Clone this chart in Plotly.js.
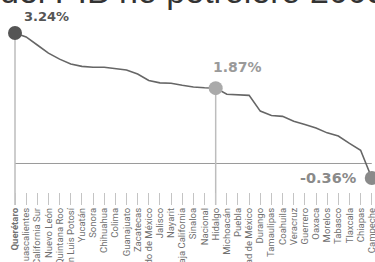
<!DOCTYPE html>
<html>
<head>
<meta charset="utf-8">
<script src="https://cdn.plot.ly/plotly-3.0.1.min.js"></script>
<style>
html,body{margin:0;padding:0;background:#fff;}
#chart{width:375px;height:262px;}
</style>
</head>
<body>
<div id="chart"></div>
<script>
// Data (crecimiento promedio anual del PIB no petrolero, %)
var categories = ["Querétaro","Aguascalientes","Baja California Sur","Nuevo León","Quintana Roo","San Luis Potosí","Yucatán","Sonora","Chihuahua","Colima","Guanajuato","Zacatecas","Estado de México","Jalisco","Nayarit","Baja California","Sinaloa","Nacional","Hidalgo","Michoacán","Puebla","Ciudad de México","Durango","Tamaulipas","Coahuila","Veracruz","Guerrero","Oaxaca","Morelos","Tabasco","Tlaxcala","Chiapas","Campeche"];
var values = [3.24,3.14,2.94,2.74,2.59,2.47,2.41,2.39,2.39,2.36,2.32,2.22,2.06,2.00,1.99,1.94,1.90,1.88,1.87,1.72,1.70,1.69,1.30,1.19,1.17,1.05,0.97,0.88,0.76,0.68,0.50,0.33,-0.36];
var highlightIdx = [0, 18, 32];
var highlightColors = ["#555555", "#aaaaaa", "#8a8a8a"];
var labelColors = ["#555555", "#9a9a9a", "#8a8a8a"];
var tickLabels = categories.map(function(c, i){ return i === 0 ? "<b>" + c + "</b>" : c; });
var titleText = "del PIB no petrolero 2003-2016";

var lineTrace = {
  x: categories, y: values, type: "scatter", mode: "lines",
  line: {color: "#666666", width: 1.6, shape: "linear"},
  hoverinfo: "skip", cliponaxis: false
};
var markerTrace = {
  x: highlightIdx.map(function(i){ return categories[i]; }),
  y: highlightIdx.map(function(i){ return values[i]; }),
  type: "scatter", mode: "markers",
  marker: {size: 14, color: highlightColors},
  hoverinfo: "skip", cliponaxis: true
};

var yBottom = -1.030, yTop = 3.561;
var shapes = [
  {type: "line", xref: "x", yref: "y", x0: categories[0], x1: categories[categories.length-1], y0: 0, y1: 0,
   line: {color: "#9a9a9a", width: 1}, layer: "below"}
];
highlightIdx.slice(0, 2).forEach(function(i){
  shapes.push({type: "line", xref: "x", yref: "y", x0: categories[i], x1: categories[i],
    y0: yBottom, y1: values[i], line: {color: "#bdbdbd", width: 1.5}, layer: "below"});
});

var labelFont = "DejaVu Sans, sans-serif";
var layout = {
  width: 375, height: 262,
  margin: {l: 0, r: 0, t: 20, b: 57},
  paper_bgcolor: "#ffffff", plot_bgcolor: "#ffffff",
  showlegend: false,
  xaxis: {
    type: "category", range: [-1.345, 32.29], automargin: false,
    showgrid: false, zeroline: false, showline: false,
    ticks: "inside", ticklen: 12, tickwidth: 1, tickcolor: "#c4c4c4",
    tickangle: -90, tickvals: categories, ticktext: tickLabels,
    tickfont: {family: "Roboto, Open Sans, sans-serif", size: 9.5, color: "#707070"},
    fixedrange: true
  },
  yaxis: {
    range: [yBottom, yTop], visible: false, fixedrange: true, automargin: false
  },
  shapes: shapes,
  annotations: [
    {xref: "paper", yref: "paper", x: -0.005, y: 1.045, xanchor: "left", yanchor: "bottom",
     text: titleText, showarrow: false,
     font: {family: "Liberation Sans, Arial, sans-serif", size: 34, color: "#333333"}},
    {x: categories[0], y: values[0], xshift: 31, yshift: 16, showarrow: false,
     text: "<b>3.24%</b>", font: {family: labelFont, size: 13, color: labelColors[0]}},
    {x: categories[18], y: values[18], xshift: 22, yshift: 21, showarrow: false,
     text: "<b>1.87%</b>", font: {family: labelFont, size: 14, color: labelColors[1]}},
    {x: categories[32], y: values[32], xshift: -43, yshift: 0, showarrow: false,
     text: "<b>-0.36%</b>", font: {family: labelFont, size: 14.5, color: labelColors[2]}}
  ]
};

Plotly.newPlot("chart", [lineTrace, markerTrace], layout, {displayModeBar: false, staticPlot: true});
</script>
</body>
</html>
